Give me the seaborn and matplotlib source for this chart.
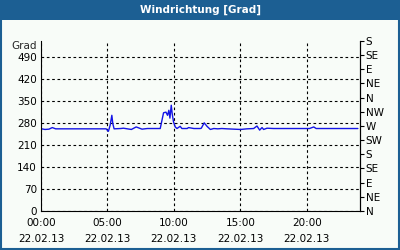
import matplotlib
matplotlib.use("Agg")
import matplotlib.pyplot as plt
from matplotlib.patches import Rectangle
from matplotlib.transforms import blended_transform_factory
import seaborn as sns
import pandas as pd

# data: hours since 22.02.13 00:00, wind direction in degrees
hours = [0.05, 0.3, 0.6, 0.85, 1.1, 2.0, 3.0, 4.0, 4.9, 5.07, 5.2, 5.33, 5.4, 5.5,
         6.0, 6.2, 6.5, 6.8, 7.16, 7.6, 8.0, 8.97, 9.22, 9.4, 9.52, 9.62, 9.7, 9.8,
         9.87, 9.97, 10.1, 10.23, 10.47, 10.6, 11.0, 11.1, 11.5, 11.98, 12.06, 12.28,
         12.49, 12.74, 13.0, 13.3, 13.6, 14.0, 14.5, 15.0, 15.5, 16.0, 16.25, 16.45,
         16.63, 16.75, 17.0, 17.5, 18.5, 19.5, 20.2, 20.52, 20.7, 21.0, 22.0, 23.0, 23.84]
degrees = [261, 259, 260, 265, 261, 261, 261, 261, 261, 253, 272, 304, 278, 261,
           262, 263, 261, 259, 267, 260, 262, 262, 312, 314, 304, 320, 295, 336,
           309, 283, 267, 262, 269, 262, 262, 265, 262, 262, 263, 280,
           269, 259, 262, 261, 262, 261, 260, 259, 261, 262, 270, 257,
           265, 259, 263, 262, 262, 262, 262, 267, 262, 262, 262, 262, 262]

left_ticks = [0, 70, 140, 210, 280, 350, 420, 490]
right_ticks = [0, 45, 90, 135, 180, 225, 270, 315, 360, 405, 450, 495, 540]
right_labels = ["N", "NE", "E", "SE", "S", "SW", "W", "NW", "N", "NE", "E", "SE", "S"]
x_ticks = [0, 5, 10, 15, 20]
x_labels = ["00:00\n22.02.13", "05:00\n22.02.13", "10:00\n22.02.13",
            "15:00\n22.02.13", "20:00\n22.02.13"]
title = "Windrichtung [Grad]"
unit = "Grad"

df = pd.DataFrame({"hour": hours, "deg": degrees})

sns.set_style("white")
plt.rcParams["font.family"] = ["DejaVu Sans"]

BLUE = "#1c5f93"
fig = plt.figure(figsize=(4, 2.5), dpi=100, facecolor="#f8fcf8")
ax = fig.add_axes([41 / 400, 1 - 211 / 250, 319 / 400, 170 / 250])
ax.set_facecolor("#f8fcf8")

sns.lineplot(data=df, x="hour", y="deg", ax=ax, color="#1414e6", linewidth=1.0)

ax.set_xlim(0, 24)
ax.set_ylim(0, 540)
ax.set_xlabel("")
ax.set_ylabel("")
ax.set_yticks(left_ticks)
ax.set_yticklabels([str(v) for v in left_ticks], fontsize=7.5)
ax.set_xticks(x_ticks)
ax.set_xticklabels(x_labels, fontsize=7.5, linespacing=1.7)
ax.set_xticks(range(0, 25), minor=True)
ax.tick_params(axis="y", which="both", length=0, pad=3, colors="black")
ax.tick_params(axis="x", which="both", direction="in", length=3, width=0.8,
               pad=5, colors="black")
ax.grid(True, axis="both", which="major", color="black", linestyle=(0, (2.4, 2.4)),
        linewidth=0.8)

for s in ["left", "bottom", "right"]:
    ax.spines[s].set_visible(True)
    ax.spines[s].set_color("black")
    ax.spines[s].set_linewidth(0.8)
ax.spines["top"].set_visible(False)

ax2 = ax.twinx()
ax2.set_ylim(0, 540)
ax2.set_yticks(right_ticks)
ax2.set_yticklabels(right_labels, fontsize=7.5)
ax2.tick_params(axis="y", direction="out", length=3, width=0.8, pad=1, colors="black")
for s in ["left", "bottom", "top"]:
    ax2.spines[s].set_visible(False)
ax2.spines["right"].set_color("black")
ax2.spines["right"].set_linewidth(0.8)

tr = blended_transform_factory(ax.transAxes, ax.transData)
ax.text(-0.012, 523, unit, transform=tr, ha="right", va="center", fontsize=7.5)

# title bar and frame
fig.patches.append(Rectangle((0, 1 - 20 / 250), 1, 20 / 250, transform=fig.transFigure,
                             facecolor=BLUE, edgecolor="none", zorder=0))
fig.patches.append(Rectangle((0.002, 0.004), 0.996, 0.992, transform=fig.transFigure,
                             facecolor="none", edgecolor=BLUE, linewidth=1.5, zorder=5))
fig.text(0.5, 1 - 10 / 250, title, ha="center", va="center", color="white",
         fontsize=7.5, fontweight="bold")

fig.savefig("out.png", dpi=100, facecolor=fig.get_facecolor())
